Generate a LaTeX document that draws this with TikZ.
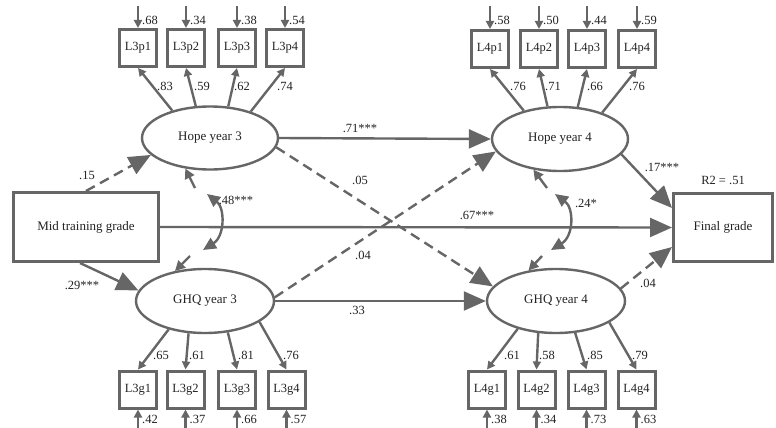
\documentclass[tikz,border=0pt]{standalone}
\usepackage{fontspec}
\setmainfont{Liberation Serif}
\usetikzlibrary{arrows.meta,shapes.geometric,calc}
\definecolor{ln}{HTML}{666666}
\definecolor{tx}{HTML}{222222}
\begin{document}
\begin{tikzpicture}[x=1pt,y=-1pt,
  lat/.style={ellipse, draw=ln, line width=2.4pt, minimum width=136pt, minimum height=63pt, inner sep=0pt, font=\rmfamily\fontsize{13}{15}\selectfont, text=tx},
  ind/.style={rectangle, draw=ln, line width=3pt, minimum width=37pt, minimum height=37pt, inner sep=0pt, font=\rmfamily\fontsize{12.5}{14}\selectfont, text=tx},
  obs/.style={rectangle, draw=ln, line width=3pt, inner sep=0pt, font=\rmfamily\fontsize{13}{15}\selectfont, text=tx},
  lab/.style={font=\rmfamily\fontsize{12.5}{14}\selectfont, text=tx, inner sep=0pt},
  struct/.style={draw=ln, line width=2.4pt, -{Triangle[length=22pt,width=19pt]}},
  dsh/.style={dash pattern=on 10pt off 6pt},
  load/.style={draw=ln, line width=2.4pt, -{Triangle[length=8pt,width=8pt]}},
  err/.style={draw=ln, line width=2.4pt, -{Triangle[length=8pt,width=8pt]}},
  covend/.style={draw=ln, line width=2.4pt, -{Triangle[length=10pt,width=10pt]}},
  cov/.style={draw=ln, line width=2.4pt, {Triangle[length=13pt,width=12pt]}-{Triangle[length=13pt,width=12pt]}},
]
\useasboundingbox (0,0) rectangle (776,428);

% observed variables
\node[obs, minimum width=145pt, minimum height=69pt] (mid) at (86,227) {Mid training grade};
\node[obs, minimum width=99pt, minimum height=68pt] (final) at (723,227.5) {Final grade};
\node[lab] (r2) at (723,180) {R2 = .51};

% latent variables
\node[lat] (hope3) at (210,138) {Hope year 3};
\node[lat, minimum height=64pt] (hope4) at (560,139) {Hope year 4};
\node[lat, minimum width=138pt, minimum height=64pt] (ghq3) at (205,301) {GHQ year 3};
\node[lat, minimum width=138pt, minimum height=64pt] (ghq4) at (556,301) {GHQ year 4};

% indicators top
\node[ind] (p31) at (138,48) {L3p1};
\node[ind] (p32) at (186,48) {L3p2};
\node[ind] (p33) at (237,48) {L3p3};
\node[ind] (p34) at (285,48) {L3p4};
\node[ind] (p41) at (490,49) {L4p1};
\node[ind] (p42) at (539,49) {L4p2};
\node[ind] (p43) at (587,49) {L4p3};
\node[ind] (p44) at (637,49) {L4p4};
% indicators bottom
\node[ind] (g31) at (138,389.5) {L3g1};
\node[ind] (g32) at (185.5,389.5) {L3g2};
\node[ind] (g33) at (237,389.5) {L3g3};
\node[ind] (g34) at (286.5,389.5) {L3g4};
\node[ind] (g41) at (487,389.5) {L4g1};
\node[ind] (g42) at (536.5,389.5) {L4g2};
\node[ind] (g43) at (586.5,389.5) {L4g3};
\node[ind] (g44) at (636.5,389.5) {L4g4};

% error terms
\foreach \n/\x/\v in {p31/138/.68, p32/186/.34, p33/237/.38, p34/285/.54, p41/490/.58, p42/539/.50, p43/587/.44, p44/637/.59}{
  \coordinate (e\n) at (\x,6);
  \draw[err] (e\n) -- (\n.north);
  \node[lab] (l\n) at (\x+12,20) {\v};
}
\foreach \n/\x/\v in {g31/138/.42, g32/185.5/.37, g33/237/.66, g34/286.5/.57, g41/487/.38, g42/536.5/.34, g43/586.5/.73, g44/636.5/.63}{
  \coordinate (e\n) at (\x,432);
  \draw[err] (e\n) -- (\n.south);
  \node[lab] (l\n) at (\x+12,419) {\v};
}

% loadings
\draw[load] (hope3.144) -- (p31.south);
\draw[load] (hope3.114) -- (p32.south);
\draw[load] (hope3.60) -- (p33.south);
\draw[load] (hope3.33) -- (p34.south);
\draw[load] (hope4.142) -- (p41.south);
\draw[load] (hope4.111) -- (p42.south);
\draw[load] (hope4.61) -- (p43.south);
\draw[load] (hope4.32) -- (p44.south);
\draw[load] (ghq3.218) -- (g31.north);
\draw[load] (ghq3.243) -- (g32.north);
\draw[load] (ghq3.306) -- (g33.north);
\draw[load] (ghq3.339) -- (g34.north);
\draw[load] (ghq4.216) -- (g41.north);
\draw[load] (ghq4.241) -- (g42.north);
\draw[load] (ghq4.301) -- (g43.north);
\draw[load] (ghq4.338) -- (g44.north);

\node[lab] (a1) at (165,86) {.83};
\node[lab] (a2) at (202,86) {.59};
\node[lab] (a3) at (242,86) {.62};
\node[lab] (a4) at (285,86) {.74};
\node[lab] (b1) at (518,86) {.76};
\node[lab] (b2) at (553,86) {.71};
\node[lab] (b3) at (595,86) {.66};
\node[lab] (b4) at (637,86) {.76};
\node[lab] (c1) at (161,355) {.65};
\node[lab] (c2) at (197,355) {.61};
\node[lab] (c3) at (246,355) {.81};
\node[lab] (c4) at (291,355) {.76};
\node[lab] (d1) at (512,355) {.61};
\node[lab] (d2) at (547,355) {.58};
\node[lab] (d3) at (595,355) {.85};
\node[lab] (d4) at (640,355) {.79};

% structural paths
\coordinate (mids) at ($(mid.south)+(-6,0)$);
\coordinate (fin1) at ($(final.north west)+(0,16)$);
\coordinate (fin2) at ($(final.south west)+(0,-16)$);
\draw[struct,dsh] (mid.north) -- (hope3.196);
\draw[struct] (mids) -- (ghq3.171);
\draw[struct] (mid.east) -- (final.west);
\draw[struct] (hope3.east) -- (hope4.west);
\draw[struct,dsh] (hope3.-8) -- (ghq4.167);
\draw[struct,dsh] (ghq3.3) -- (hope4.191);
\draw[struct] (ghq3.east) -- (ghq4.west);
\draw[struct] (hope4.-14) -- (fin1);
\draw[struct,dsh] (ghq4.11) -- (fin2);

\node[lab] (s1) at (87,175) {.15};
\node[lab] (s2) at (82,285) {.29***};
\node[lab] (s3) at (477,215) {.67***};
\node[lab] (s4) at (360,128) {.71***};
\node[lab] (s5) at (360,180) {.05};
\node[lab] (s6) at (363,255) {.04};
\node[lab] (s7) at (357,310) {.33};
\node[lab] (s8) at (662,167) {.17***};
\node[lab] (s9) at (648,283) {.04};

% covariances
\coordinate (c1a) at (195,188);
\coordinate (c1b) at (207,194);
\coordinate (c1c) at (203,250);
\coordinate (c1d) at (190,256);
\draw[covend] (c1a) -- (hope3.231);
\draw[cov] (c1b) .. controls (225,208) and (225,236) .. (c1c);
\draw[covend] (c1d) -- (ghq3.135);
\node[lab] (k1) at (236,200) {.48***};

\coordinate (c2a) at (547,188);
\coordinate (c2b) at (555,194);
\coordinate (c2c) at (551,250);
\coordinate (c2d) at (542,256);
\draw[covend] (c2a) -- (hope4.229);
\draw[cov] (c2b) .. controls (574,208) and (574,236) .. (c2c);
\draw[covend] (c2d) -- (ghq4.132);
\node[lab] (k2) at (586,203) {.24*};
\end{tikzpicture}
\end{document}
